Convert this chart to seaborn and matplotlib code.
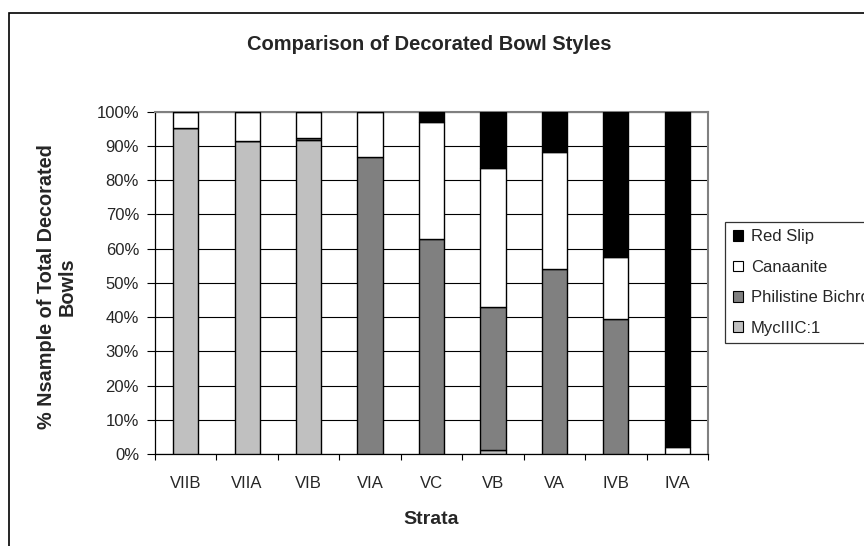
import numpy as np
import pandas as pd
import matplotlib
matplotlib.use("Agg")
import matplotlib.pyplot as plt
import seaborn as sns
from matplotlib.patches import Patch, Rectangle

strata = ["VIIB", "VIIA", "VIB", "VIA", "VC", "VB", "VA", "IVB", "IVA"]
myc = [95.3, 91.3, 91.6, 0.0, 0.0, 1.3, 0.0, 0.0, 0.0]
philistine = [0.0, 0.0, 0.7, 86.7, 62.7, 41.7, 54.0, 39.4, 0.0]
canaanite = [4.7, 8.7, 7.7, 13.3, 34.4, 40.5, 34.3, 18.1, 2.1]
red_slip = [0.0, 0.0, 0.0, 0.0, 2.9, 16.5, 11.7, 42.5, 97.9]

series_names = ["MycIIIC:1", "Philistine Bichrome", "Canaanite", "Red Slip"]
series_vals = [myc, philistine, canaanite, red_slip]
series_colors = ["#C0C0C0", "#808080", "#FFFFFF", "#000000"]
ytick_labels = [f"{v}%" for v in range(0, 101, 10)]

sns.set_theme(style="white")
plt.rcParams['font.family'] = ['Liberation Sans', 'DejaVu Sans']

fig = plt.figure(figsize=(8.64, 5.46), dpi=100)
ax = fig.add_axes([155/864, 1-454/546, (708-155)/864, (454-111.7)/546])

df = pd.DataFrame({"Strata": strata})
bottom = np.zeros(len(strata))
for name, vals, col in zip(series_names, series_vals, series_colors):
    df[name] = vals
    sns.barplot(data=df, x="Strata", y=name, order=strata, color=col,
                bottom=bottom, width=0.41, edgecolor="black", linewidth=1.0,
                saturation=1, ax=ax, zorder=3)
    bottom = bottom + np.array(vals)

ax.set_ylim(0, 100)
ax.set_xlim(-0.5, len(strata) - 0.5)
ax.set_yticks(np.arange(0, 101, 10))
ax.set_yticklabels(ytick_labels, fontsize=12)
ax.set_xticks(np.arange(len(strata)))
ax.set_xticklabels(strata, fontsize=12)
ax.set_xticks(np.arange(-0.5, len(strata), 1.0), minor=True)
ax.tick_params(axis="x", which="major", length=0, pad=16)
ax.tick_params(axis="x", which="minor", length=4.5, width=0.8, color="black", direction="out", bottom=True)
ax.tick_params(axis="y", which="major", length=5.5, width=0.8, color="black", direction="out", left=True, pad=6)
ax.yaxis.grid(True, color="black", linewidth=0.8, zorder=0)
ax.set_axisbelow(True)
for s in ["top", "right"]:
    ax.spines[s].set_color("#808080")
    ax.spines[s].set_linewidth(1.5)
for s in ["left", "bottom"]:
    ax.spines[s].set_color("black")
    ax.spines[s].set_linewidth(0.9)

ax.set_xlabel("")
ax.set_ylabel("")
fig.text(431/864, 1-524/546, "Strata", ha="center", va="baseline",
         fontsize=14, fontweight="bold")
fig.text(57/864, 1-287/546, "% Nsample of Total Decorated\nBowls", ha="center", va="center",
         rotation=90, fontsize=14.3, fontweight="bold", linespacing=1.1, multialignment="center")
fig.text(429/864, 1-50/546, "Comparison of Decorated Bowl Styles", ha="center", va="baseline",
         fontsize=14.5, fontweight="bold")

handles = [Patch(facecolor=c, edgecolor="black", linewidth=0.8, label=n)
           for n, c in zip(series_names, series_colors)][::-1]
leg = fig.legend(handles=handles, loc="upper left", bbox_to_anchor=(725/864, 1-222/546),
                 fontsize=12, frameon=True, fancybox=False, edgecolor="black",
                 handlelength=0.6, handleheight=0.6, handletextpad=0.5,
                 labelspacing=0.92, borderpad=0.45, borderaxespad=0)
leg.get_frame().set_linewidth(0.9)

fig.patches.append(Rectangle((9/864, -0.1), 1.2, 1-13/546+0.1, transform=fig.transFigure,
                             fill=False, edgecolor="black", linewidth=1.2))

fig.savefig("out.png", dpi=100)
